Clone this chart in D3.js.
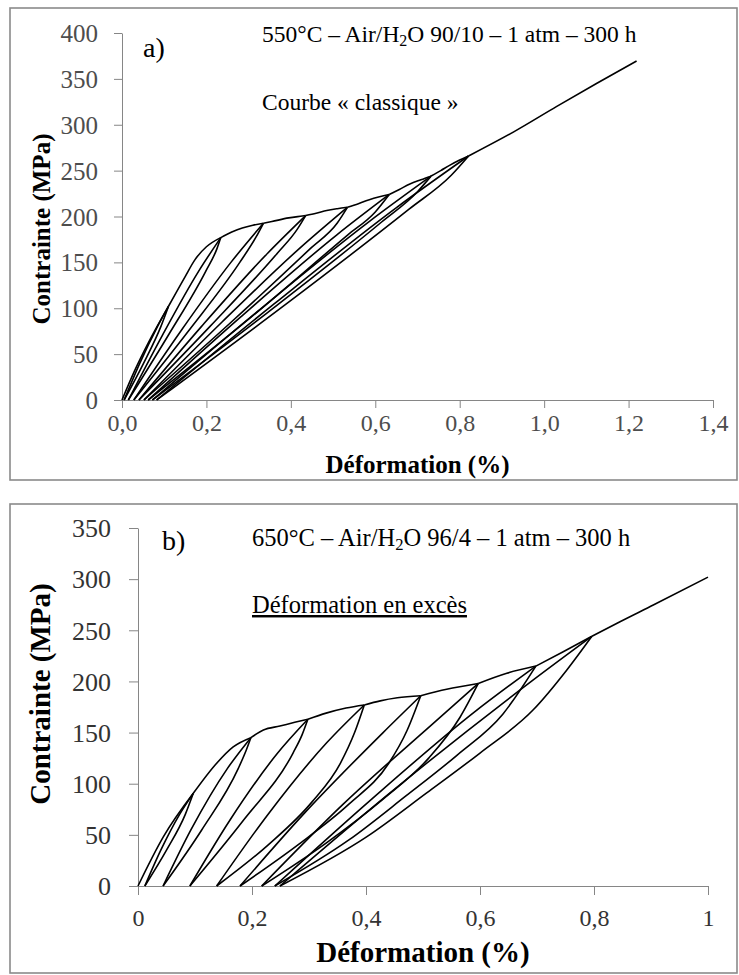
<!DOCTYPE html>
<html>
<head>
<meta charset="utf-8">
<script src="https://cdn.jsdelivr.net/npm/d3@7/dist/d3.min.js"></script>
<style>
body { margin: 0; background: #fff; }
svg text { font-family: 'Liberation Serif', 'Times New Roman', serif; }
.axis path, .axis line { stroke: #868686; stroke-width: 1; }
.curve { fill: none; stroke: #000; stroke-width: 1.6; stroke-linejoin: round; }
</style>
</head>
<body>
<div id="fig"></div>
<script>
// ---------- panel a : 550°C - Air/H2O 90/10 - courbe classique ----------
var aXTicks = [0, 0.2, 0.4, 0.6, 0.8, 1.0, 1.2, 1.4];
var aYTicks = [0, 50, 100, 150, 200, 250, 300, 350, 400];

// loading branches, peak to peak  [strain %, stress MPa]
var aLoading = [
  [[0, 0], [0.03, 32], [0.062, 62], [0.11, 102]],
  [[0.11, 102], [0.149, 134], [0.173, 153], [0.2, 167], [0.234, 177]],
  [[0.234, 177], [0.26, 183], [0.285, 187.5], [0.31, 190.5], [0.335, 192.6]],
  [[0.335, 192.6], [0.355, 194.5], [0.395, 198.5], [0.427, 200.5], [0.435, 201]],
  [[0.435, 201], [0.46, 203.5], [0.485, 206.5], [0.51, 208.5], [0.534, 210]],
  [[0.534, 210], [0.56, 214], [0.584, 218], [0.61, 221.5], [0.633, 224]],
  [[0.633, 224], [0.657, 229.5], [0.682, 235.4], [0.708, 240], [0.732, 244]],
  [[0.732, 244], [0.755, 250], [0.777, 256], [0.8, 261.5], [0.821, 266]],
  [[0.821, 266], [0.927, 292], [1.03, 320], [1.124, 345], [1.219, 369.5]]
];
// unloading branches (residual strain -> peak)
var aUnloading = [
  [[0.005, 0], [0.051, 40], [0.092, 80], [0.11, 102]],
  [[0.015, 0], [0.109, 70], [0.198, 140], [0.225, 165], [0.234, 177]],
  [[0.028, 0], [0.157, 75], [0.279, 150], [0.318, 178], [0.335, 192.6]],
  [[0.04, 0], [0.208, 80], [0.368, 160], [0.415, 186], [0.435, 201]],
  [[0.052, 0], [0.259, 85], [0.446, 165], [0.51, 193], [0.534, 210]],
  [[0.062, 0], [0.305, 90], [0.535, 180], [0.6, 205], [0.633, 224]],
  [[0.072, 0], [0.344, 95], [0.615, 194], [0.7, 227], [0.732, 244]],
  [[0.082, 0], [0.39, 105], [0.68, 208], [0.78, 245], [0.821, 266]]
];
// reloading branches
var aReloading = [
  [[0.005, 0], [0.042, 40], [0.084, 80], [0.11, 102]],
  [[0.015, 0], [0.095, 70], [0.181, 140], [0.234, 177]],
  [[0.028, 0], [0.139, 75], [0.258, 150], [0.335, 192.6]],
  [[0.04, 0], [0.188, 80], [0.345, 160], [0.435, 201]],
  [[0.052, 0], [0.237, 85], [0.42, 165], [0.534, 210]],
  [[0.062, 0], [0.28, 90], [0.509, 180], [0.633, 224]],
  [[0.072, 0], [0.317, 95], [0.587, 195], [0.732, 244]],
  [[0.082, 0], [0.361, 105], [0.651, 210], [0.821, 266]]
];

// ---------- panel b : 650°C - Air/H2O 96/4 - deformation en exces ----------
var bXTicks = [0, 0.2, 0.4, 0.6, 0.8, 1];
var bYTicks = [0, 50, 100, 150, 200, 250, 300, 350];

var bLoading = [
  [[0, 0], [0.0444, 48], [0.097, 90.6]],
  [[0.097, 90.6], [0.138, 120], [0.167, 136], [0.198, 145]],
  [[0.198, 145], [0.22, 152.5], [0.249, 156.4], [0.275, 160], [0.298, 163]],
  [[0.298, 163], [0.33, 169], [0.365, 174], [0.397, 177]],
  [[0.397, 177], [0.425, 181], [0.455, 184], [0.496, 186]],
  [[0.496, 186], [0.5415, 192.3], [0.597, 198]],
  [[0.597, 198], [0.647, 208], [0.698, 215]],
  [[0.698, 215], [0.746, 229], [0.796, 244]],
  [[0.796, 244], [0.8456, 258.4], [0.904, 274.7], [1.0, 302]]
];
var bUnloading = [
  [[0.012, 0], [0.05, 35], [0.083, 70], [0.097, 90.6]],
  [[0.044, 0], [0.112, 55], [0.176, 115], [0.19, 133], [0.198, 145]],
  [[0.091, 0], [0.186, 65], [0.272, 130], [0.288, 148], [0.298, 163]],
  [[0.138, 0], [0.228, 40], [0.305, 82], [0.355, 120], [0.38, 150], [0.397, 177]],
  [[0.179, 0], [0.28, 40], [0.37, 80], [0.44, 120], [0.472, 152], [0.496, 186]],
  [[0.217, 0], [0.33, 42], [0.43, 85], [0.51, 125], [0.565, 165], [0.597, 198]],
  [[0.24, 0], [0.37, 45], [0.47, 88], [0.56, 128], [0.64, 168], [0.698, 215]],
  [[0.249, 0], [0.401, 48], [0.5065, 91], [0.6, 130], [0.693, 172], [0.752, 211], [0.796, 244]]
];
var bReloading = [
  [[0.012, 0], [0.04, 35], [0.073, 70], [0.097, 90.6]],
  [[0.044, 0], [0.093, 55], [0.157, 115], [0.198, 145]],
  [[0.091, 0], [0.162, 65], [0.245, 130], [0.298, 163]],
  [[0.138, 0], [0.228, 70], [0.331, 140], [0.397, 177]],
  [[0.179, 0], [0.29, 70], [0.43, 150], [0.496, 186]],
  [[0.217, 0], [0.36, 80], [0.52, 160], [0.597, 198]],
  [[0.24, 0], [0.41, 85], [0.59, 170], [0.698, 215]],
  [[0.249, 0], [0.44, 90], [0.69, 200], [0.796, 244]]
];

var width = 739, height = 975;
var serif = "'Liberation Serif', 'Times New Roman', serif";

var svg = d3.select("#fig").append("svg")
    .attr("width", width)
    .attr("height", height)
    .attr("font-family", serif);

var comma = function(fmt) {
  return function(d) { return d3.format(fmt)(d).replace(".", ","); };
};

function drawPanel(p) {
  var g = svg.append("g");

  // grey frame round the panel
  g.append("rect")
    .attr("x", p.frame[0]).attr("y", p.frame[1])
    .attr("width", p.frame[2]).attr("height", p.frame[3])
    .attr("fill", "none")
    .attr("stroke", "#8a8a8a")
    .attr("stroke-width", 1.6);

  var x = d3.scaleLinear().domain(p.xDomain).range(p.xRange);
  var y = d3.scaleLinear().domain(p.yDomain).range(p.yRange);

  var xAxis = d3.axisBottom(x)
    .tickValues(p.xTicks)
    .tickSize(p.tick)
    .tickSizeOuter(0)
    .tickPadding(p.xPad)
    .tickFormat(p.xFormat);

  var yAxis = d3.axisLeft(y)
    .tickValues(p.yTicks)
    .tickSize(p.tick)
    .tickSizeOuter(0)
    .tickPadding(p.yPad);

  var gx = g.append("g")
    .attr("class", "axis x")
    .attr("transform", "translate(0," + p.yRange[0] + ")")
    .call(xAxis)
    .attr("font-family", null)
    .attr("font-size", null);
  gx.selectAll("text")
      .attr("dy", null)
      .attr("y", p.xLabelY)
      .attr("fill", p.tickColor)
      .style("font-family", serif)
      .style("font-size", p.tickFont + "px");

  var gy = g.append("g")
    .attr("class", "axis y")
    .attr("transform", "translate(" + p.xRange[0] + ",0)")
    .call(yAxis)
    .attr("font-family", null)
    .attr("font-size", null);
  gy.selectAll("text")
      .attr("dy", "0.34em")
      .attr("fill", p.tickColor)
      .style("font-family", serif)
      .style("font-size", p.yTickFont + "px");

  // hysteresis curves
  var line = d3.line()
    .x(function(d) { return x(d[0]); })
    .y(function(d) { return y(d[1]); })
    .curve(d3.curveMonotoneX);

  var branches = p.reloading.concat(p.unloading, p.loading);
  g.selectAll("path.curve")
    .data(branches)
    .enter().append("path")
      .attr("class", "curve")
      .attr("d", line);

  // axis titles
  g.append("text")
    .attr("x", (p.xRange[0] + p.xRange[1]) / 2)
    .attr("y", p.xTitleY)
    .style("text-anchor", "middle")
    .style("font-weight", "bold")
    .style("font-size", p.xTitleFont + "px")
    .text(p.xTitle);

  g.append("text")
    .attr("transform", "translate(" + p.yTitleX + "," + p.yTitleY + ") rotate(-90)")
    .style("text-anchor", "middle")
    .style("font-weight", "bold")
    .style("font-size", p.yTitleFont + "px")
    .text("Contrainte (MPa)");

  // panel letter
  g.append("text")
    .attr("x", p.letterPos[0]).attr("y", p.letterPos[1])
    .style("font-size", "28px")
    .text(p.letter);

  // conditions line, with subscript 2
  var t = g.append("text")
    .attr("x", p.titlePos[0]).attr("y", p.titlePos[1])
    .style("font-size", p.titleFont + "px");
  t.append("tspan").text(p.title[0]);
  t.append("tspan").attr("dy", "0.25em").style("font-size", "0.68em").text("2");
  t.append("tspan").attr("dy", "-0.17em").text(p.title[1]);

  g.append("text")
    .attr("x", p.notePos[0]).attr("y", p.notePos[1])
    .style("font-size", p.noteFont + "px")
    .style("text-decoration", p.underline ? "underline" : null)
    .text(p.note);
}

drawPanel({
  frame: [10, 8, 727, 472],
  xDomain: [0, 1.4], xRange: [122, 713],
  yDomain: [0, 400], yRange: [400, 33],
  xTicks: aXTicks, yTicks: aYTicks,
  xFormat: comma(".1f"),
  tick: 8, xPad: 8, yPad: 16, xLabelY: 31,
  tickColor: "#4d4d4d", tickFont: 24, yTickFont: 25,
  loading: aLoading, unloading: aUnloading, reloading: aReloading,
  xTitle: "Déformation (%)", xTitleY: 473, xTitleFont: 25,
  yTitleX: 50, yTitleY: 229, yTitleFont: 25,
  letter: "a)", letterPos: [143, 57],
  title: ["550°C – Air/H", "O 90/10 – 1 atm – 300 h"], titlePos: [262, 42], titleFont: 23.5,
  note: "Courbe « classique »", notePos: [262, 110], noteFont: 23.5, underline: false
});

drawPanel({
  frame: [10, 504, 727, 469],
  xDomain: [0, 1], xRange: [138, 708],
  yDomain: [0, 350], yRange: [886, 528],
  xTicks: bXTicks, yTicks: bYTicks,
  xFormat: function(d) { return String(d).replace(".", ","); },
  tick: 9, xPad: 8, yPad: 18, xLabelY: 40,
  tickColor: "#333", tickFont: 24, yTickFont: 26,
  loading: bLoading, unloading: bUnloading, reloading: bReloading,
  xTitle: "Déformation (%)", xTitleY: 962, xTitleFont: 29,
  yTitleX: 50, yTitleY: 694, yTitleFont: 29,
  letter: "b)", letterPos: [162, 550],
  title: ["650°C – Air/H", "O 96/4 – 1 atm – 300 h"], titlePos: [252, 546], titleFont: 24.5,
  note: "Déformation en excès", notePos: [252, 613], noteFont: 24.5, underline: true
});
</script>
</body>
</html>
